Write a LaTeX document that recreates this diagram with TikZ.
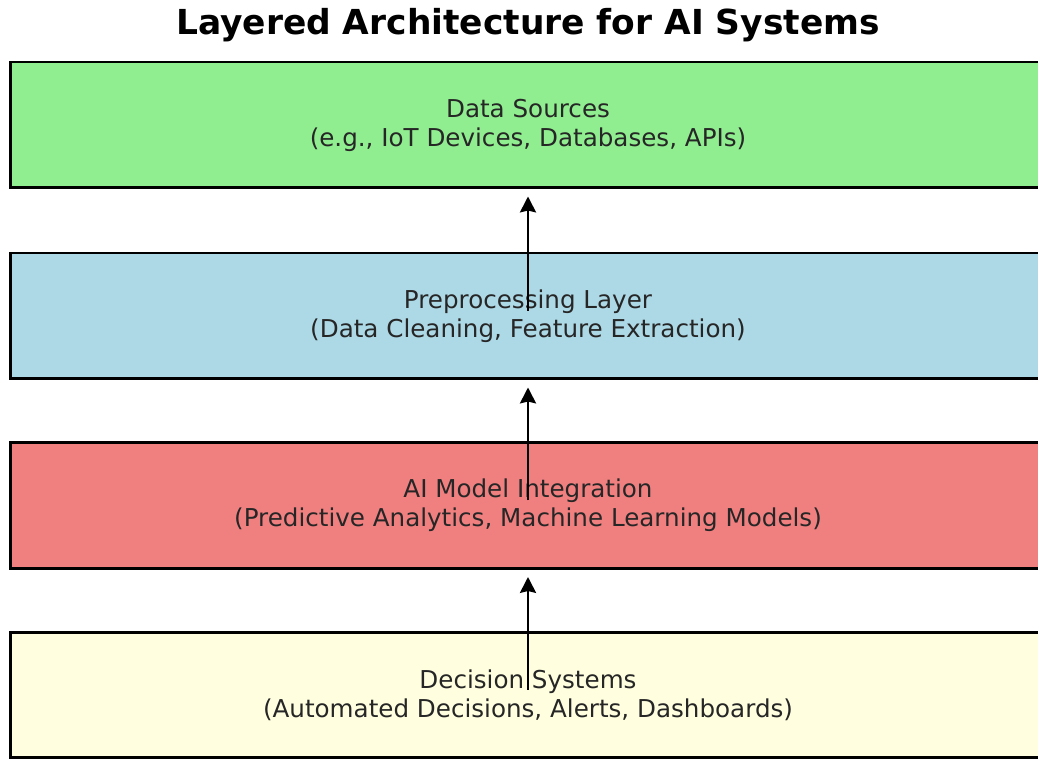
\documentclass[tikz,border=0pt]{standalone}
\usepackage{fontspec}
\setmainfont{DejaVu Sans}
\usepackage{tikz}
\usetikzlibrary{arrows.meta, positioning}

\definecolor{srcgreen}{RGB}{144,238,144}
\definecolor{preblue}{RGB}{173,216,230}
\definecolor{aired}{RGB}{240,128,128}
\definecolor{decyellow}{RGB}{255,255,224}

\tikzset{
  layer/.style={draw=black, line width=1.7pt, minimum width=20.72cm, minimum height=2.52cm,
    align=center, inner sep=0pt, text=black!85, font=\fontsize{14}{16.5}\selectfont},
  uparrow/.style={-{Stealth[length=9pt, width=9pt, inset=1pt]}, line width=1.7pt, shorten >=7*0.02cm}
}

\begin{document}
\begin{tikzpicture}[x=0.02cm, y=-0.02cm]

\useasboundingbox (0,0) rectangle (1038,759);
\clip (0,0) rectangle (1038,759);

\node[font=\fontsize{19.6}{22}\selectfont\bfseries] (title) at (528,25) {Layered Architecture for AI Systems};

\node[layer, fill=srcgreen] (src) at (528,125) {Data Sources\\(e.g., IoT Devices, Databases, APIs)};
\node[layer, fill=preblue] (pre) at (528,316) {Preprocessing Layer\\(Data Cleaning, Feature Extraction)};
\node[layer, fill=aired] (ai) at (528,505.5) {AI Model Integration\\(Predictive Analytics, Machine Learning Models)};
\node[layer, fill=decyellow] (dec) at (528,695) {Decision Systems\\(Automated Decisions, Alerts, Dashboards)};

\draw[uparrow] ([yshift=0.1cm]dec.center) -- (ai.south);
\draw[uparrow] ([yshift=0.1cm]ai.center) -- (pre.south);
\draw[uparrow] ([yshift=0.1cm]pre.center) -- (src.south);

\end{tikzpicture}
\end{document}
